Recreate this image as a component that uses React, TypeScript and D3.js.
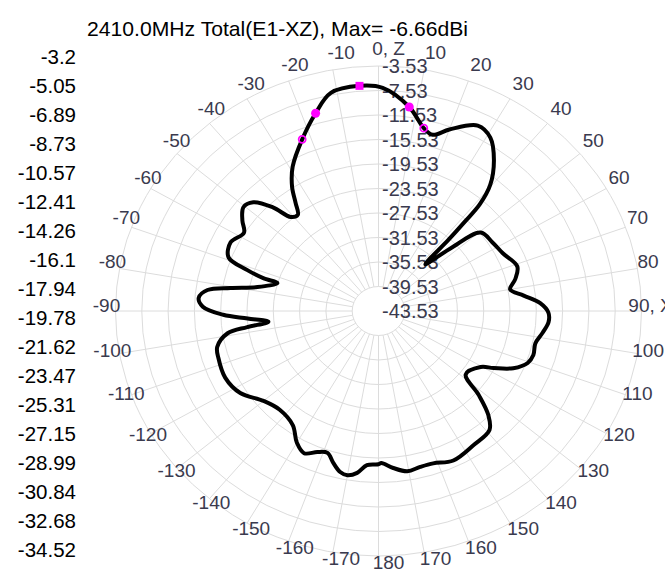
import React from "react";
import * as d3 from "d3";

const title = "2410.0MHz Total(E1-XZ), Max= -6.66dBi";

const legendLabels = ["-3.2", "-5.05", "-6.89", "-8.73", "-10.57", "-12.41", "-14.26", "-16.1", "-17.94", "-19.78", "-21.62", "-23.47", "-25.31", "-27.15", "-28.99", "-30.84", "-32.68", "-34.52"];

const ringValues = [-43.53, -39.53, -35.53, -31.53, -27.53, -23.53, -19.53, -15.53, -11.53, -7.53, -3.53];

const angleTicks = [-170, -160, -150, -140, -130, -120, -110, -100, -90, -80, -70, -60, -50, -40, -30, -20, -10, 0, 10, 20, 30, 40, 50, 60, 70, 80, 90, 100, 110, 120, 130, 140, 150, 160, 170, 180];

const angles = [-180, -176, -173, -170, -167.5, -164.5, -161.5, -158, -154, -150, -145, -137, -130, -122.5, -115, -107.5, -103.5, -99, -97.5, -96, -93.5, -91.5, -88.5, -85.5, -82.5, -80.5, -78, -73.5, -73, -71.5, -69, -63.5, -58, -54.5, -50.5, -47, -43.5, -41, -38, -35.5, -33, -29, -22.5, -16.5, -11.5, -4.5, 1, 8, 13, 16, 20, 26.5, 31, 35.5, 39.5, 41.5, 42, 42.5, 43, 47, 50.5, 57, 63.5, 71, 76, 80, 83.5, 87, 90.5, 94, 98, 102.5, 107, 110.5, 114.5, 118, 120.5, 128, 132, 135.5, 139, 146.5, 155, 161.5, 166, 170.5, 175, 179];

const gains = [-18.5, -18.3, -16.9, -16.3, -16.6, -17.8, -19.1, -18.7, -17.7, -18.7, -20.8, -21.5, -20.7, -18.6, -17.8, -18.0, -18.3, -20.3, -23.4, -26.7, -23.6, -19.9, -16.8, -16.1, -17.3, -20.7, -24.7, -27.5, -25.2, -22.5, -19.1, -18.4, -19.4, -18.1, -16.9, -17.5, -20.2, -23.2, -23.6, -21.8, -19.4, -16.6, -13.2, -9.85, -7.2, -6.66, -7.1, -9.9, -12.9, -13.6, -12.0, -9.7, -10.5, -13.3, -16.8, -20.3, -23.9, -27.8, -33.1, -28.5, -23.4, -22.9, -22.4, -21.2, -22.1, -23.2, -21.3, -18.9, -17.7, -17.6, -18.3, -19.1, -18.9, -19.3, -21.0, -23.7, -25.5, -26.7, -23.0, -19.7, -17.8, -17.3, -16.6, -17.3, -17.3, -17.0, -17.8, -18.7];

const maxAngle = -4.5;
const maxGain = -6.66;
const halfPowerAngles = [-16.5, 8];
const halfPowerGains = [-9.85, -9.9];
const sixDbAngles = [-22.5, 13];
const sixDbGains = [-13.2, -12.9];

const W = 665;
const H = 588;
const cx = 378.5;
const cy = 311;
const rx = 263;
const ry = 245;
const FONT = "'Liberation Sans', Arial, sans-serif";

const r = d3.scaleLinear().domain([-43.53, -3.53]).range([0, 1]);
const rad = (deg: number) => (deg * Math.PI) / 180;
const px = (a: number, g: number) => cx + rx * r(g) * Math.sin(rad(a));
const py = (a: number, g: number) => cy - ry * r(g) * Math.cos(rad(a));

export default function App() {
  const pts: [number, number][] = angles.map((a, i) => [px(a, gains[i]), py(a, gains[i])]);
  const line = d3.line().curve(d3.curveCatmullRomClosed.alpha(0.5));
  const pathD = line(pts) || "";

  const legendY = d3.scalePoint().domain(legendLabels).range([57, 550]);
  const gridAngles = d3.range(0, 360, 10);
  const ringIdx = d3.range(1, 11);

  return (
    <svg width={W} height={H} style={{ position: "absolute", left: 0, top: 0, background: "#fff" }} fontFamily={FONT}>
      <rect x={0} y={0} width={W} height={H} fill="#fff" />
      {ringIdx.map((k) => (
        <ellipse key={"r" + k} cx={cx} cy={cy} rx={(rx * k) / 10} ry={(ry * k) / 10} fill="none" stroke="#dcdcdc" strokeWidth={1} />
      ))}
      {gridAngles.map((a) => (
        <line
          key={"s" + a}
          x1={cx + (rx / 10) * Math.sin(rad(a))}
          y1={cy - (ry / 10) * Math.cos(rad(a))}
          x2={cx + rx * Math.sin(rad(a))}
          y2={cy - ry * Math.cos(rad(a))}
          stroke="#dcdcdc"
          strokeWidth={1}
        />
      ))}
      <text x={87} y={29} dy="0.35em" fontSize={21} fill="#000" textLength={381} lengthAdjust="spacingAndGlyphs">
        {title}
      </text>
      {legendLabels.map((l) => (
        <text key={"l" + l} x={76} y={legendY(l)} dy="0.35em" fontSize={20.5} textAnchor="end" fill="#000">
          {l}
        </text>
      ))}
      {ringValues.map((v) => (
        <text key={"rv" + v} x={cx + 3.5} y={cy - ry * r(v)} dy="0.35em" fontSize={20} fill="#3a3a4e">
          {v.toFixed(2)}
        </text>
      ))}
      {angleTicks.map((a) => {
        const label = a === 0 ? "0, Z" : a === 90 ? "90, X" : String(a);
        const x = cx + 272 * Math.sin(rad(a)) + 10 * Math.abs(Math.cos(rad(a)));
        const y = cy - 257 * Math.cos(rad(a)) - 5.5;
        return (
          <text key={"a" + a} x={x} y={y} dy="0.35em" fontSize={19} textAnchor="middle" fill="#3a3a4e">
            {label}
          </text>
        );
      })}
      <path d={pathD} fill="none" stroke="#000" strokeWidth={4} strokeLinejoin="round" />
      <rect x={px(maxAngle, maxGain) - 4} y={py(maxAngle, maxGain) - 4} width={8} height={8} fill="#ff00ff" />
      {halfPowerAngles.map((a, i) => (
        <circle key={"h" + i} cx={px(a, halfPowerGains[i])} cy={py(a, halfPowerGains[i])} r={4.5} fill="#ff00ff" />
      ))}
      {sixDbAngles.map((a, i) => (
        <circle key={"s6" + i} cx={px(a, sixDbGains[i])} cy={py(a, sixDbGains[i])} r={3.5} fill="none" stroke="#ff00ff" strokeWidth={1.8} />
      ))}
    </svg>
  );
}
